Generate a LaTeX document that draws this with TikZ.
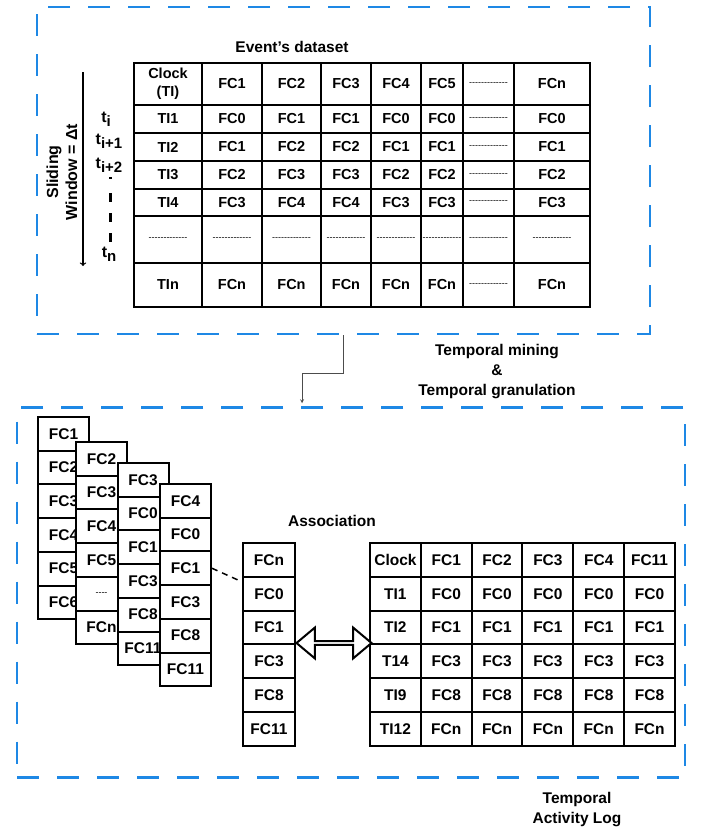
\documentclass[tikz,border=0pt]{standalone}
\usepackage{fontspec}
\setmainfont{Liberation Sans}
\usetikzlibrary{shapes.arrows}
\definecolor{boxblue}{RGB}{30,136,229}

\newcommand{\dsh}{{\mdseries\fontsize{9}{9}\selectfont -\kern0pt-\kern0pt-\kern0pt-\kern0pt-\kern0pt-\kern0pt-\kern0pt-\kern0pt-\kern0pt-\kern0pt-\kern0pt-\kern0pt-}}
\newcommand{\sdsh}{{\mdseries\fontsize{9}{9}\selectfont -\kern0pt-\kern0pt-\kern0pt-}}
\newcommand{\tsub}[1]{t\raisebox{-4pt}{\fontsize{15}{15}\selectfont #1}}

\tikzset{
  cell/.style={draw, line width=2pt, inner sep=0pt, align=center, font=\bfseries\fontsize{14.5}{18}\selectfont},
  bigcell/.style={cell, font=\bfseries\fontsize{15.5}{18}\selectfont},
  frame/.style={draw=boxblue, line width=2.5pt, dash pattern=on 22pt off 18pt},
  caption/.style={font=\bfseries\fontsize{15.5}{20}\selectfont, align=center},
  tlabel/.style={font=\bfseries\fontsize{16}{16}\selectfont, inner sep=0pt},
}

\begin{document}
\begin{tikzpicture}[x=1pt,y=-1pt]
    \useasboundingbox (0,0) rectangle (701,833);

    % dashed frames
    \node[frame, minimum width=613pt, minimum height=327pt] (topbox) at (343.5,170.5) {};
    \node[frame, minimum width=668pt, minimum height=370pt] (botbox) at (351,592.5) {};

    % event's dataset
    \node[caption] (evtitle) at (292,47) {Event's dataset};
    \foreach \cy/\ch/\cells [count=\row] in {
        84/42/{Clock\\(TI),FC1,FC2,FC3,FC4,FC5,\dsh,FCn},
        119/28/{TI1,FC0,FC1,FC1,FC0,FC0,\dsh,FC0},
        147/28/{TI2,FC1,FC2,FC2,FC1,FC1,\dsh,FC1},
        175/28/{TI3,FC2,FC3,FC3,FC2,FC2,\dsh,FC2},
        202.5/27/{TI4,FC3,FC4,FC4,FC3,FC3,\dsh,FC3},
        239.5/47/{\dsh,\dsh,\dsh,\dsh,\dsh,\dsh,\dsh,\dsh},
        285/44/{TIn,FCn,FCn,FCn,FCn,FCn,\dsh,FCn}}
      \foreach \txt [count=\col] in \cells {
        \pgfmathsetmacro{\cx}{{168,232,291.5,346,396,442,488.5,552}[\col-1]}
        \pgfmathsetmacro{\cw}{{68,60,59,50,50,42,51,76}[\col-1]}
        \node[cell, minimum width=\cw pt, minimum height=\ch pt] (ev-\row-\col) at (\cx,\cy) {\txt};
      }

    % sliding window
    \coordinate (sw-top) at (83,72);
    \coordinate (sw-bot) at (83,266);
    \draw[->, line width=1.3pt] (sw-top) -- (sw-bot);
    \node[tlabel, rotate=90, align=center, font=\bfseries\fontsize{16}{19}\selectfont] (swlabel) at (62,172) {Sliding\\Window = Δt};
    \node[tlabel] (ti) at (106,119) {\tsub{i}};
    \node[tlabel] (ti1) at (109,141) {\tsub{i+1}};
    \node[tlabel] (ti2) at (109,165) {\tsub{i+2}};
    \coordinate (td-a) at (110,177);
    \coordinate (td-b) at (110,242);
    \draw[line width=3pt, dash pattern=on 2pt off 14pt on 9pt off 11pt on 9pt off 11pt on 9pt off 20pt] (td-a) -- (td-b);
    \node[tlabel] (tn) at (109,254) {\tsub{n}};

    % mining step
    \draw[-stealth, draw=black!70, line width=0.8pt, shorten >=3pt] (topbox.south) -- ++(0,38) -| ([xshift=-49pt]botbox.north);
    \node[caption] (mining) at (497,372) {Temporal mining\\\&\\Temporal granulation};

    % granules
    \foreach \cx/\ty/\cells [count=\k] in {
        63.5/417/{FC1,FC2,FC3,FC4,FC5,FC6},
        101.5/442/{FC2,FC3,FC4,FC5,\sdsh,FCn},
        143/463/{FC3,FC0,FC1,FC3,FC8,FC11},
        185.5/484/{FC4,FC0,FC1,FC3,FC8,FC11}} {
      \node[fill=white, minimum width=51pt, minimum height=202pt, inner sep=0pt] (gb\k) at (\cx,\ty+101) {};
      \foreach \txt [count=\row] in \cells
        \node[bigcell, minimum width=51pt, minimum height=33.7pt] (gr\k-\row) at (\cx,\ty+33.7*\row-16.85) {\txt};
    }

    % association
    \node[caption] (assoclabel) at (332,521) {Association};
    \foreach \txt [count=\row] in {FCn,FC0,FC1,FC3,FC8,FC11}
      \node[bigcell, minimum width=52pt, minimum height=33.83pt] (as-\row) at (269,543+33.83*\row-16.92) {\txt};
    \draw[line width=1.5pt, dash pattern=on 6pt off 5pt] (gr4-3.east) -- ([yshift=-6pt]as-2.north west);

    % activity log
    \foreach \cells [count=\row] in {
        {Clock,FC1,FC2,FC3,FC4,FC11},
        {TI1,FC0,FC0,FC0,FC0,FC0},
        {TI2,FC1,FC1,FC1,FC1,FC1},
        {T14,FC3,FC3,FC3,FC3,FC3},
        {TI9,FC8,FC8,FC8,FC8,FC8},
        {TI12,FCn,FCn,FCn,FCn,FCn}}
      \foreach \txt [count=\col] in \cells
        \node[bigcell, minimum width=50.83pt, minimum height=33.83pt] (log-\row-\col) at (370+50.83*\col-25.42,543+33.83*\row-16.92) {\txt};

    \node[draw, fill=white, line width=2pt, double arrow, double arrow tip angle=80, double arrow head extend=7pt, minimum width=31pt, minimum height=75pt, inner sep=0pt] (link) at (334,643) {};

    \node[caption] (logtitle) at (577,810) {Temporal\\Activity Log};
\end{tikzpicture}
\end{document}
